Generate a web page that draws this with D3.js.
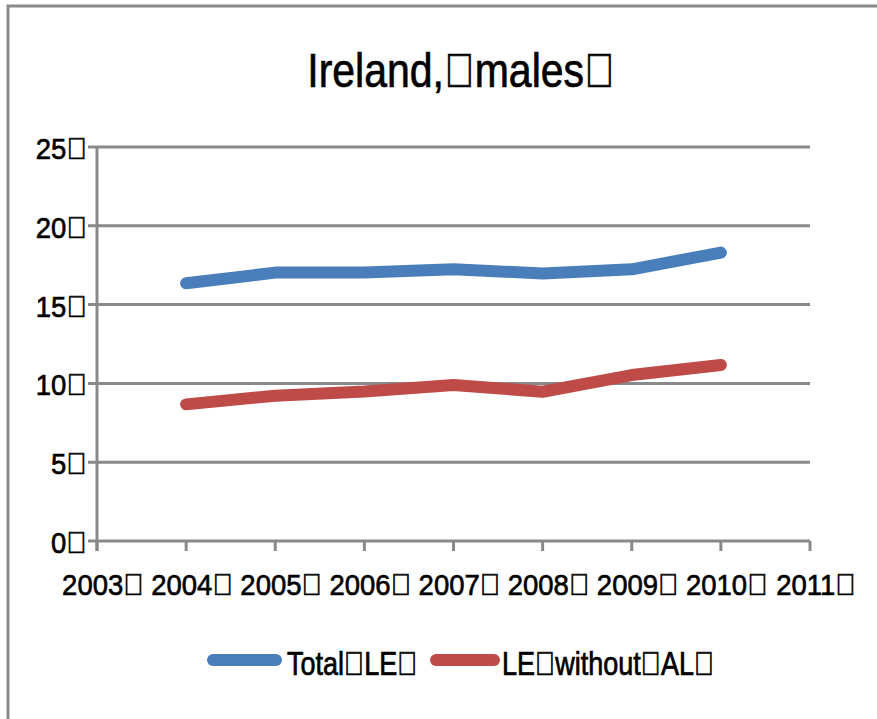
<!DOCTYPE html>
<html><head><meta charset="utf-8">
<script src="https://cdn.jsdelivr.net/npm/d3@7"></script>
<style>
html,body{margin:0;padding:0;background:#fff;}
svg text{font-family:"Liberation Sans",Arial,sans-serif;fill:#000;stroke:#000;stroke-width:0.6px;}
</style></head>
<body>
<svg id="c" width="877" height="719"></svg>
<script>
const T = "\uF020";
const years = [2004, 2005, 2006, 2007, 2008, 2009, 2010];
const tickYears = [2003, 2004, 2005, 2006, 2007, 2008, 2009, 2010, 2011];
const totalLE = [16.35, 17.03, 17.03, 17.24, 16.98, 17.24, 18.3];
const leWithoutAL = [8.67, 9.22, 9.48, 9.9, 9.47, 10.53, 11.17];
const yTicks = [0, 5, 10, 15, 20, 25];
const seriesNames = ["Total LE", "LE without AL"];
const colors = ["#4A7EBB", "#BE4B48"];
const title = "Ireland, males";

const svg = d3.select("#c");
const tofu = s => s.replace(/ /g, T) + T;
const grid = "#898989";

// outer frame
svg.append("path").attr("d", "M8,719V6H877").attr("fill","none").attr("stroke",grid).attr("stroke-width",3);

const x = d3.scaleLinear().domain([2003, 2011]).range([97, 810]);
const y = d3.scaleLinear().domain([0, 25]).range([541, 147]);

// gridlines
svg.append("g").selectAll("line").data(yTicks).join("line")
  .attr("x1", 88).attr("x2", 810).attr("y1", d => y(d)).attr("y2", d => y(d))
  .attr("stroke", grid).attr("stroke-width", 3);

// y axis line
svg.append("line").attr("x1", 97).attr("x2", 97).attr("y1", y(25)).attr("y2", y(0)+10)
  .attr("stroke",grid).attr("stroke-width",3);
// x ticks
svg.append("g").selectAll("line").data(tickYears).join("line")
  .attr("x1", d => x(d)).attr("x2", d => x(d)).attr("y1", y(0)).attr("y2", y(0)+10)
  .attr("stroke",grid).attr("stroke-width",3);

// y labels
svg.append("g").selectAll("text").data(yTicks).join("text")
  .attr("transform", d => `translate(87,${y(d) + 12}) scale(1,1.09)`).attr("text-anchor","end")
  .attr("font-size", 27.5).text(d => tofu(String(d)));
// x labels
svg.append("g").selectAll("text").data(tickYears).join("text")
  .attr("transform", d => `translate(${x(d) + 6},595) scale(1,1.09)`).attr("text-anchor","middle")
  .attr("font-size", 27.5).text(d => tofu(String(d)));

// lines
const line = d3.line().x(d => x(d[0])).y(d => y(d[1]));
[totalLE, leWithoutAL].forEach((vals, i) => {
  svg.append("path").datum(years.map((yr, j) => [yr, vals[j]]))
    .attr("d", line).attr("fill","none").attr("stroke", colors[i])
    .attr("stroke-width", 12).attr("stroke-linecap","round").attr("stroke-linejoin","round");
});

// title
svg.append("text").attr("transform", "translate(461,87) scale(1,1.17)").attr("text-anchor","middle")
  .attr("font-size", 41).text(tofu(title));

// legend
const leg = [{x1:213,x2:276,tx:287},{x1:436,x2:494,tx:502}];
leg.forEach((l, i) => {
  svg.append("line").attr("x1", l.x1).attr("x2", l.x2).attr("y1", 660).attr("y2", 660)
    .attr("stroke", colors[i]).attr("stroke-width", 12).attr("stroke-linecap","round");
  svg.append("text").attr("transform", `translate(${l.tx},675) scale(1,1.22)`)
    .attr("font-size", 27).text(tofu(seriesNames[i]));
});
</script>
</body></html>
